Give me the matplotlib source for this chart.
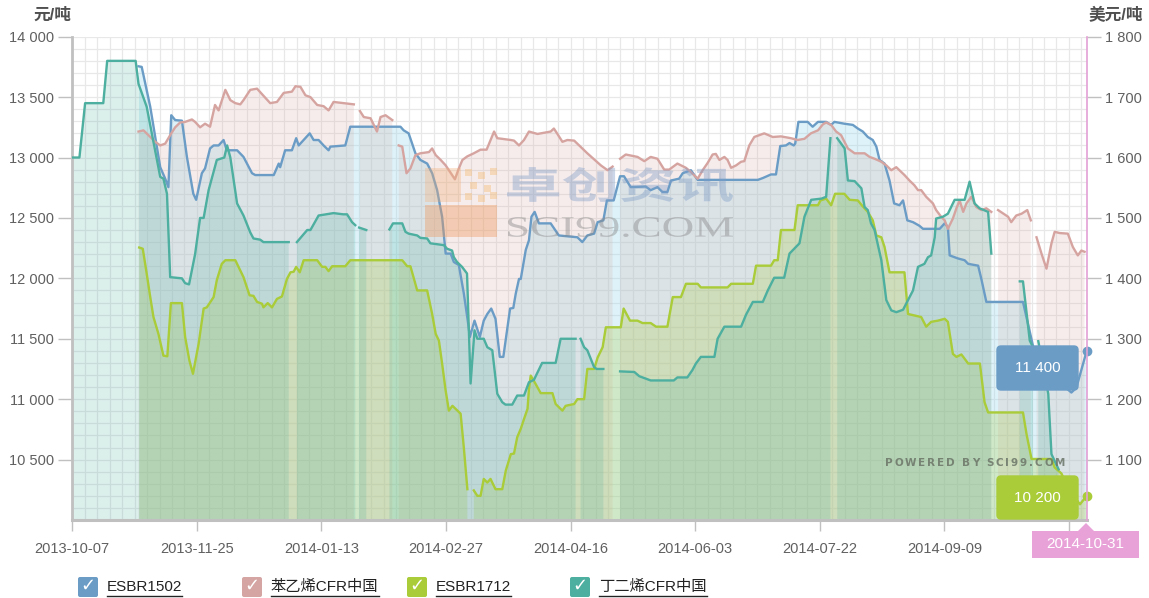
#!/usr/bin/env python3
"""ESBR1502 / ESBR1712 与苯乙烯、丁二烯 CFR 中国价格走势（双轴面积图）。"""

import matplotlib

matplotlib.use("Agg")
import matplotlib.pyplot as plt
import numpy as np
from matplotlib.font_manager import FontProperties
from matplotlib.lines import Line2D
from matplotlib.patches import FancyBboxPatch, PathPatch, Polygon, Rectangle
from matplotlib.textpath import TextPath
from matplotlib.ticker import FuncFormatter, MultipleLocator
from matplotlib.transforms import Affine2D, IdentityTransform

plt.rcParams["font.family"] = ["Liberation Sans", "Noto Sans CJK SC", "DejaVu Sans"]

nan = np.nan

# x 轴为交易日序号：0 = 2013-10-07，285 = 2014-10-31
tick_idx = [0, 35, 70, 105, 140, 175, 210, 245, 280]
tick_labels = ["2013-10-07", "2013-11-25", "2014-01-13", "2014-02-27", "2014-04-16",
               "2014-06-03", "2014-07-22", "2014-09-09", "2014-10-24"]
last_label = "2014-10-31"

# ESBR1502，元/吨（左轴）
esbr1502_x = [18.6, 19.5, 21.9, 24.7, 26.1, 27.0, 27.8, 28.9, 30.8, 32.2,
              34.0, 34.8, 36.4, 37.3, 38.7, 39.7, 41.1, 42.5, 43.4, 46.3,
              48.1, 50.5, 51.4, 56.6, 58.0, 58.4, 59.8, 61.7, 62.9, 63.6,
              65.0, 66.7, 67.8, 69.2, 70.6, 72.0, 72.5, 76.7, 78.1, 92.2,
              93.1, 94.5, 96.4, 97.8, 99.7, 101.1, 102.5, 103.9, 104.9, 106.3,
              107.2, 108.6, 110.0, 111.1, 111.7, 113.0, 114.5, 115.6, 116.6, 117.7,
              118.9, 120.1, 121.1, 123.0, 123.9, 124.6, 125.5, 126.0, 127.4, 128.3,
              129.0, 129.9, 131.1, 134.4, 136.7, 141.9, 143.3, 144.7, 146.6, 147.6,
              149.2, 150.2, 152.1, 153.9, 155.0, 156.9, 161.1, 162.5, 164.4, 165.8,
              167.2, 168.2, 170.5, 171.5, 173.8, 175.7, 192.6, 194.0, 196.3, 197.7,
              198.9, 200.5, 201.5, 202.7, 203.1, 204.0, 206.6, 208.0, 209.5, 211.8,
              213.2, 214.1, 216.9, 219.3, 220.7, 222.1, 223.5, 224.9, 225.9, 226.8,
              228.2, 229.6, 230.9, 232.4, 233.4, 234.6, 236.2, 238.0, 239.0, 243.7,
              245.1, 246.0, 246.5, 248.8, 250.7, 251.7, 254.5, 255.4, 256.8, 267.1,
              271.0, 280.7, 282.1, 285.0]
esbr1502_y = [13755, 13750, 13420, 12920, 12825, 12755, 13350, 13310, 13305, 13005,
              12700, 12650, 12870, 12910, 13075, 13100, 13100, 13145, 13060, 13060,
              13005, 12870, 12855, 12855, 12950, 12920, 13060, 13060, 13160, 13100,
              13145, 13200, 13145, 13145, 13100, 13060, 13090, 13100, 13255, 13255,
              13225, 13200, 13035, 12980, 12950, 12870, 12730, 12510, 12205, 12205,
              12135, 12110, 11875, 11650, 11515, 11650, 11515, 11650, 11705, 11750,
              11665, 11350, 11350, 11750, 11755, 11875, 11995, 11995, 12235, 12315,
              12510, 12550, 12455, 12455, 12355, 12340, 12300, 12355, 12370, 12465,
              12480, 12645, 12645, 12845, 12845, 12755, 12760, 12730, 12755, 12715,
              12715, 12810, 12825, 12870, 12895, 12815, 12815, 12830, 12860, 12860,
              13095, 13100, 13120, 13100, 13115, 13295, 13295, 13255, 13295, 13295,
              13270, 13295, 13280, 13270, 13240, 13215, 13170, 13145, 13090, 12980,
              12950, 12810, 12620, 12605, 12645, 12480, 12465, 12435, 12410, 12410,
              12455, 12425, 12190, 12165, 12150, 12120, 12105, 11995, 11805, 11805,
              11300, 11055, 11095, 11400]

# 苯乙烯CFR中国，美元/吨（右轴）
styrene_x = [18.6, 20.0, 21.4, 23.3, 24.7, 26.1, 27.5, 28.9, 30.3, 31.7,
             33.6, 34.5, 35.9, 37.3, 38.7, 40.1, 41.1, 43.0, 44.4, 45.8,
             47.2, 48.1, 50.0, 51.9, 54.7, 55.6, 57.5, 59.4, 61.7, 62.7,
             64.1, 65.5, 66.9, 68.8, 70.6, 72.0, 73.4, 76.3, 79.1, 80.0,
             80.8, 81.9, 83.8, 85.6, 86.6, 88.0, 89.9, 90.8, 91.7, 92.7,
             93.9, 95.0, 96.4, 97.8, 100.2, 101.1, 102.1, 103.5, 104.9, 105.8,
             107.5, 108.6, 109.6, 111.0, 112.8, 114.7, 116.4, 117.3, 118.5, 119.4,
             123.2, 124.1, 125.5, 126.9, 128.3, 130.7, 134.4, 135.3, 136.3, 137.7,
             139.1, 141.0, 143.3, 144.7, 146.4, 148.5, 150.4, 151.8, 152.9, 153.9,
             155.5, 158.8, 160.7, 162.5, 164.4, 166.3, 167.7, 170.0, 172.4, 173.8,
             175.7, 177.1, 178.5, 179.9, 180.8, 181.8, 183.2, 184.1, 185.1, 186.5,
             187.9, 188.8, 190.2, 191.6, 193.0, 194.4, 196.8, 199.1, 201.9, 203.8,
             205.7, 207.5, 209.5, 210.9, 211.8, 213.2, 214.6, 216.0, 217.9, 219.8,
             222.6, 224.0, 225.4, 227.3, 228.7, 230.1, 231.5, 232.9, 233.8, 235.2,
             236.6, 237.6, 238.5, 239.9, 241.8, 242.7, 244.1, 245.1, 246.0, 247.4,
             248.4, 249.3, 250.3, 251.2, 252.6, 254.0, 255.4, 256.8, 258.2, 259.2,
             260.1, 262.9, 263.8, 265.2, 266.7, 268.3, 269.3, 270.1, 270.9, 272.3,
             273.7, 275.1, 276.0, 277.4, 279.7, 281.1, 282.5, 283.5, 284.4]
styrene_y = [1643, 1645, 1637, 1626, 1620, 1623, 1637, 1650, 1658, 1659,
             1663, 1659, 1650, 1656, 1651, 1687, 1678, 1712, 1695, 1690,
             1688, 1695, 1712, 1714, 1696, 1690, 1692, 1707, 1709, 1718,
             1717, 1703, 1700, 1687, 1685, 1678, 1692, 1690, 1688, nan,
             1677, 1667, 1665, 1643, 1667, 1670, 1662, nan, 1620, 1618,
             1574, 1582, 1604, 1607, 1609, 1615, 1604, 1596, 1587, 1579,
             1564, 1582, 1596, 1602, 1607, 1613, 1613, 1626, 1643, 1632,
             1629, 1628, 1620, 1629, 1643, 1639, 1643, 1648, 1639, 1626,
             1629, 1628, 1615, 1607, 1598, 1587, 1579, 1585, nan, 1598,
             1605, 1601, 1594, 1601, 1598, 1580, 1580, 1590, 1583, 1576,
             1565, 1579, 1591, 1605, 1606, 1596, 1601, 1596, 1583, 1587,
             1593, 1594, 1620, 1634, 1637, 1640, 1634, 1635, 1632, 1629,
             1631, 1640, 1645, 1655, 1658, 1654, 1643, 1637, 1615, 1607,
             1607, 1601, 1598, 1593, 1587, 1579, 1584, 1576, 1571, 1562,
             1554, 1546, 1546, 1535, 1524, 1513, 1502, 1496, 1482, 1499,
             1516, 1529, 1510, 1524, 1535, 1518, 1513, 1516, 1510, nan,
             1513, 1502, 1493, 1504, 1507, 1513, 1496, nan, 1468, 1441,
             1416, 1458, 1477, 1475, 1474, 1452, 1438, 1446, 1444]

# ESBR1712，元/吨（左轴）
esbr1712_x = [18.8, 19.8, 20.9, 21.9, 22.8, 24.2, 25.6, 26.7, 27.7, 30.8,
              31.7, 32.9, 33.9, 35.5, 36.9, 37.8, 39.7, 40.6, 42.0, 43.0,
              45.8, 48.1, 49.8, 50.9, 51.9, 53.3, 53.7, 54.9, 56.1, 57.5,
              58.9, 60.3, 61.3, 62.2, 62.9, 63.9, 65.0, 68.8, 70.2, 71.1,
              72.0, 73.0, 76.7, 78.1, 92.7, 94.1, 95.0, 96.9, 99.7, 101.1,
              102.1, 103.0, 103.9, 104.9, 105.8, 106.8, 108.2, 109.1, 110.0, 111.0,
              112.0, 112.8, 113.8, 114.7, 115.6, 116.6, 117.5, 118.9, 120.8, 121.8,
              123.2, 124.1, 125.0, 126.0, 126.9, 127.9, 128.3, 128.8, 129.9, 131.6,
              134.9, 135.8, 137.7, 138.6, 141.0, 141.9, 143.8, 144.7, 146.6, 147.6,
              149.0, 149.9, 154.1, 154.9, 156.7, 158.8, 160.2, 162.5, 164.0, 167.2,
              168.7, 171.0, 172.4, 175.7, 176.6, 184.1, 185.1, 191.2, 192.1, 196.3,
              197.2, 198.2, 199.1, 202.9, 203.8, 209.5, 210.2, 211.8, 213.2, 214.3,
              216.9, 218.4, 220.7, 222.1, 223.5, 224.9, 225.9, 227.3, 228.2, 229.6,
              233.8, 234.8, 238.5, 239.9, 241.3, 243.2, 245.1, 246.0, 247.4, 248.4,
              249.8, 251.7, 255.0, 256.3, 257.3, 267.1, 268.1, 269.5, 275.1, 276.0,
              277.9, 280.0, 283.1, 285.0]
esbr1712_y = [12255, 12245, 12040, 11845, 11680, 11540, 11360, 11355, 11795, 11795,
              11515, 11320, 11210, 11460, 11750, 11760, 11845, 11985, 12120, 12150,
              12150, 12010, 11860, 11855, 11805, 11790, 11760, 11795, 11760, 11830,
              11850, 11995, 12050, 12055, 12095, 12050, 12150, 12150, 12095, 12095,
              12060, 12100, 12100, 12150, 12150, 12100, 12100, 11900, 11900, 11705,
              11540, 11485, 11295, 11070, 10905, 10945, 10905, 10880, 10600, 10255,
              nan, 10245, 10200, 10200, 10340, 10310, 10340, 10255, 10255, 10410,
              10545, 10550, 10685, 10755, 10835, 10920, 11085, 11195, 11140, 11050,
              11050, 10960, 10905, 10945, 10960, 11000, 11000, 11250, 11250, 11345,
              11430, 11595, 11595, 11750, 11650, 11650, 11630, 11630, 11600, 11600,
              11845, 11845, 11955, 11955, 11925, 11925, 11955, 11955, 12105, 12105,
              12150, 12150, 12400, 12400, 12605, 12605, 12645, 12660, 12605, 12700,
              12700, 12650, 12645, 12595, 12550, 12480, 12355, 12340, 12260, 12050,
              12050, 11705, 11680, 11600, 11640, 11650, 11665, 11640, 11375, 11350,
              11370, 11295, 11295, 10975, 10890, 10890, 10710, 10505, 10505, 10435,
              10385, 10250, 10130, 10200]

# 丁二烯CFR中国，美元/吨（右轴）
butadiene_x = [0, 2.0, 3.6, 8.7, 9.8, 17.8, 18.6, 20.9, 24.7, 25.6,
               26.6, 27.5, 30.8, 31.7, 32.8, 34.5, 35.9, 36.9, 38.3, 40.6,
               42.7, 43.5, 44.4, 46.3, 48.1, 50.0, 50.9, 52.8, 53.7, 60.8,
               62.0, 63.1, 66.0, 66.9, 69.2, 73.4, 76.1, 77.2, 78.6, 79.5,
               80.0, 80.6, 82.6, 85.0, 89.1, 90.1, 92.7, 93.6, 94.5, 96.9,
               97.8, 99.7, 100.6, 104.4, 105.3, 106.7, 107.2, 108.1, 109.5, 110.9,
               111.9, 113.0, 113.8, 115.6, 116.6, 118.0, 119.4, 120.8, 121.7, 123.6,
               125.0, 126.9, 128.3, 129.7, 132.0, 135.8, 137.2, 141.4, 142.1, 142.8,
               143.8, 144.7, 146.6, 147.3, 149.2, 151.0, 153.9, 157.9, 159.3, 162.5,
               169.0, 170.0, 172.8, 174.2, 175.2, 176.6, 180.4, 181.3, 183.2, 187.9,
               189.3, 191.2, 194.0, 195.4, 197.2, 200.0, 201.5, 204.3, 205.7, 207.6,
               210.5, 211.8, 213.0, 214.0, 214.9, 217.0, 217.9, 219.8, 221.7, 222.6,
               223.5, 224.4, 225.4, 227.3, 228.7, 230.1, 231.5, 233.4, 234.8, 236.2,
               237.6, 239.4, 240.4, 241.3, 242.3, 242.7, 244.6, 246.0, 247.9, 250.7,
               252.1, 253.5, 254.9, 257.3, 258.2, 262.0, 266.2, 267.1, 269.0, 269.9,
               270.6, 271.4, 274.2, 275.1, 277.1]
butadiene_y = [1600, 1600, 1690, 1690, 1760, 1760, 1722, 1684, 1568, 1565,
               1540, 1402, 1400, 1392, 1390, 1440, 1500, 1500, 1546, 1596,
               1600, 1620, 1600, 1524, 1504, 1476, 1466, 1464, 1460, 1460,
               nan, 1460, 1480, 1480, 1504, 1508, 1506, 1506, 1493, 1488,
               nan, 1484, 1480, nan, 1481, 1491, 1491, 1477, 1474, 1471,
               1467, 1466, 1458, 1455, 1449, 1446, 1435, 1427, 1419, 1408,
               1226, 1314, 1300, 1300, 1286, 1281, 1209, 1195, 1191, 1191,
               1206, 1206, 1228, 1232, 1260, 1260, 1300, 1300, nan, 1300,
               1286, 1281, 1253, 1250, 1250, nan, 1246, 1245, 1238, 1231,
               1231, 1236, 1236, 1248, 1259, 1270, 1270, 1300, 1320, 1320,
               1340, 1361, 1361, 1380, 1401, 1401, 1441, 1458, 1502, 1530,
               1532, 1535, 1632, nan, 1632, 1615, 1562, 1561, 1549, 1518,
               1513, 1491, 1480, 1430, 1364, 1347, 1344, 1348, 1364, 1380,
               1419, 1424, 1435, 1438, 1468, 1499, 1502, 1507, 1530, 1530,
               1560, 1524, 1516, 1510, 1441, nan, 1395, 1395, 1297, 1286,
               nan, 1296, 1209, 1109, 1084]

C_BLUE = "#6a9cc6"
C_PINK = "#d6a4a0"
C_GREEN = "#a9cc38"
C_TEAL = "#4daf9f"
C_RIGHT = "#e3a0d4"

W, H = 1149, 598


def thousands(v, _pos=None):
    return f"{v:,.0f}".replace(",", " ")


def draw_area(ax, x, y, base, color, fill, alpha, transform):
    x = np.asarray(x, dtype=float)
    y = np.asarray(y, dtype=float)
    ax.fill_between(x, y, base, color=fill, alpha=alpha, linewidth=0,
                    transform=transform, zorder=1)
    ax.plot(x, y, color=color, linewidth=1.7, transform=transform, zorder=3,
            solid_joinstyle="round")


def path_text(fig, s, x0, y_top, w, h, prop, color, alpha):
    """水印文字：把文字轮廓拉伸到指定像素框内（原图水印字形偏扁）。"""
    path = TextPath((0, 0), s, size=50, prop=prop)
    ext = path.get_extents()
    tr = (Affine2D().translate(-ext.x0, -ext.y0)
          .scale(w / ext.width, h / ext.height)
          .translate(x0, H - y_top - h))
    fig.add_artist(PathPatch(path, transform=tr, facecolor=color, edgecolor="none",
                             alpha=alpha, zorder=4))


def spaced_text(fig, renderer, cx, cy, s, width, **kw):
    """把字符串按给定总宽度（像素）等距铺开。"""
    widths = []
    for ch in s:
        t = fig.text(0, 0, ch if ch != " " else "i", **kw)
        widths.append(t.get_window_extent(renderer).width)
        t.remove()
    gap = (width - sum(widths)) / max(len(s) - 1, 1)
    x = cx - width / 2
    for ch, w in zip(s, widths):
        if ch != " ":
            fig.text((x + w / 2) / W, cy / H, ch, ha="center", va="center", **kw)
        x += w + gap


def tooltip(fig, x0, y0, w, h, color, text):
    box = FancyBboxPatch((x0, y0), w, h, boxstyle="round,pad=0,rounding_size=4",
                         facecolor=color, edgecolor=color, transform=IdentityTransform(),
                         zorder=10)
    fig.add_artist(box)
    fig.text((x0 + w / 2) / W, (y0 + h / 2) / H, text, color="white", fontsize=11,
             ha="center", va="center", zorder=11)


def main() -> None:
    fig = plt.figure(figsize=(W / 100, H / 100), dpi=100)
    fig.patch.set_facecolor("white")
    ax = fig.add_axes([72.3 / W, 1 - 520 / H, (1086.7 - 72.3) / W, (520 - 36.7) / H])
    ax2 = ax.twinx()

    ax.set_xlim(0, 285)
    ax.set_ylim(10000, 14000)
    ax2.set_ylim(1000, 1800)

    # 网格
    ax.set_axisbelow(True)
    ax.xaxis.set_minor_locator(MultipleLocator(3.5))
    ax.yaxis.set_minor_locator(MultipleLocator(100))
    ax.grid(True, which="both", color="#e8e8e8", linewidth=0.9)

    # 面积与折线：顺序同图例
    draw_area(ax, esbr1502_x, esbr1502_y, 10000, C_BLUE, "#8fd8ee", 0.3, ax.transData)
    draw_area(ax, styrene_x, styrene_y, 1000, C_PINK, C_PINK, 0.2, ax2.transData)
    draw_area(ax, esbr1712_x, esbr1712_y, 10000, C_GREEN, C_GREEN, 0.25, ax.transData)
    draw_area(ax, butadiene_x, butadiene_y, 1000, C_TEAL, C_TEAL, 0.2, ax2.transData)

    ax.plot([esbr1502_x[-1]], [esbr1502_y[-1]], "o", color=C_BLUE, markersize=6,
            zorder=5, clip_on=False)
    ax.plot([esbr1712_x[-1]], [esbr1712_y[-1]], "o", color=C_GREEN, markersize=6,
            zorder=5, clip_on=False)

    # 坐标轴
    ax.set_xticks(tick_idx)
    ax.set_xticklabels(tick_labels)
    ax.set_yticks(np.arange(10500, 14001, 500))
    ax.yaxis.set_major_formatter(FuncFormatter(thousands))
    ax2.set_yticks(np.arange(1100, 1801, 100))
    ax2.yaxis.set_major_formatter(FuncFormatter(thousands))

    ax.tick_params(axis="x", which="major", length=8, width=1, color="#c0c0c0",
                   labelsize=10.5, labelcolor="#606060", pad=8)
    ax.tick_params(axis="y", which="major", length=10, width=1, color="#c0c0c0",
                   labelsize=10.5, labelcolor="#606060", pad=3)
    ax.tick_params(which="minor", length=0)
    ax2.tick_params(axis="y", which="major", length=10, width=1, color="#c0c0c0",
                    labelsize=10.5, labelcolor="#606060", pad=3)

    for a in (ax, ax2):
        a.spines["top"].set_visible(False)
    ax.spines["left"].set_color("#c0c0c0")
    ax.spines["left"].set_linewidth(2)
    ax.spines["bottom"].set_color("#c0c0c0")
    ax.spines["bottom"].set_linewidth(2.2)
    ax.spines["right"].set_visible(False)
    ax2.spines["left"].set_visible(False)
    ax2.spines["bottom"].set_visible(False)
    ax2.spines["right"].set_color(C_RIGHT)
    ax2.spines["right"].set_linewidth(1.2)

    fig.text(33 / W, 1 - 15 / H, "元/吨", fontsize=12, fontweight="bold",
             color="#505050", ha="left", va="center")
    fig.text(1143 / W, 1 - 15 / H, "美元/吨", fontsize=12, fontweight="bold",
             color="#505050", ha="right", va="center")

    renderer = fig.canvas.get_renderer()

    # 水印
    fig.add_artist(Rectangle((425, H - 237), 72, 32, transform=IdentityTransform(),
                             facecolor="#ef9a60", alpha=0.4, linewidth=0, zorder=4))
    fig.add_artist(Rectangle((425, H - 202), 36, 34, transform=IdentityTransform(),
                             facecolor="#f2b07a", alpha=0.35, linewidth=0, zorder=4))
    for sx, sy in [(465, 169), (478, 172), (490, 168), (470, 182), (484, 185),
                   (465, 193), (478, 195), (490, 192)]:
        fig.add_artist(Rectangle((sx, H - sy - 7), 7, 7, transform=IdentityTransform(),
                                 facecolor="#f4c07e", alpha=0.45, linewidth=0, zorder=4))
    path_text(fig, "卓创资讯", 507, 167, 226, 35,
              FontProperties(family="Noto Sans CJK SC", weight="bold"), "#7f9cc6", 0.4)
    path_text(fig, "SCI99.COM", 508, 217, 225, 20,
              FontProperties(family="Liberation Serif"), "#8a8a8a", 0.45)
    spaced_text(fig, renderer, 975, H - 463, "POWERED BY SCI99.COM", 180, fontsize=7.5,
                fontweight="bold", color="#6c7568", alpha=0.85,
                family=["DejaVu Sans"], zorder=6)

    # 提示框
    tooltip(fig, 997, H - 390, 81, 44, C_BLUE, thousands(esbr1502_y[-1]))
    tooltip(fig, 997, H - 519, 81, 43, C_GREEN, thousands(esbr1712_y[-1]))
    fig.add_artist(Polygon([(1077, H - 532), (1095, H - 532), (1086, H - 523)],
                           closed=True, transform=IdentityTransform(),
                           facecolor="#e8a2d8", edgecolor="none", zorder=10))
    fig.add_artist(Rectangle((1032, H - 558), 107, 27, transform=IdentityTransform(),
                             facecolor="#e8a2d8", edgecolor="none", zorder=10))
    fig.text(1085.5 / W, 1 - 544.5 / H, last_label, color="white", fontsize=11,
             ha="center", va="center", zorder=11)

    # 图例（带勾选框）
    legend_items = [("ESBR1502", C_BLUE, 78), ("苯乙烯CFR中国", "#d4a5a3", 242),
                    ("ESBR1712", C_GREEN, 407), ("丁二烯CFR中国", C_TEAL, 570)]
    texts = []
    for label, color, px in legend_items:
        fig.add_artist(FancyBboxPatch((px, H - 597), 20, 20,
                                      boxstyle="round,pad=0,rounding_size=2",
                                      facecolor=color, edgecolor="none",
                                      transform=IdentityTransform()))
        fig.text((px + 10) / W, 1 - 586 / H, "✓", color="white", fontsize=13,
                 fontweight="bold", ha="center", va="center", family=["DejaVu Sans"])
        t = fig.text((px + 29) / W, 1 - 587 / H, label, color="#222222",
                     fontsize=11, ha="left", va="center")
        texts.append(t)

    fig.canvas.draw()
    for t in texts:
        bb = t.get_window_extent(renderer)
        fig.add_artist(Line2D([bb.x0, bb.x1], [H - 596, H - 596], color="#222222",
                              linewidth=1, transform=IdentityTransform()))

    fig.savefig("out.png", dpi=100)


if __name__ == "__main__":
    main()
